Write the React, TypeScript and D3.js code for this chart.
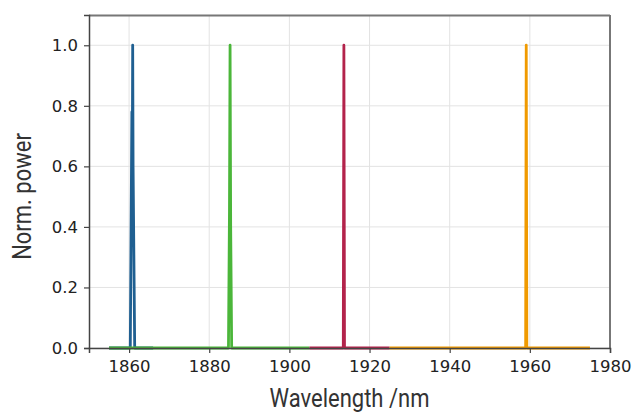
import { useEffect, useRef } from "react"
import * as d3 from "d3"

// spectra, one array pair per laser line
const blueWl = [1855, 1860.3, 1860.7, 1860.8, 1860.9, 1861.0, 1861.4, 1866]
const bluePow = [0, 0, 0.78, 0.6, 1.0, 0.6, 0, 0]
const greenWl = [1855, 1884.8, 1885.05, 1885.2, 1885.35, 1885.6, 1905]
const greenPow = [0, 0, 0.45, 1.0, 0.4, 0, 0]
const redWl = [1905, 1913.45, 1913.6, 1913.75, 1925]
const redPow = [0, 0, 1.0, 0, 0]
const orangeWl = [1925, 1958.95, 1959.1, 1959.25, 1975]
const orangePow = [0, 0, 1.0, 0, 0]

const seriesColors = ["#1f5f91", "#4bb63a", "#b3234b", "#f09a00"]

const xTicks = [1860, 1880, 1900, 1920, 1940, 1960, 1980]
const yTicks = [0.0, 0.2, 0.4, 0.6, 0.8, 1.0]

export default function App() {
    const ref = useRef<SVGSVGElement>(null)

    useEffect(() => {
        const width = 637, height = 413
        const margin = { top: 15, left: 89, right: 27, bottom: 65 }
        const w = width - margin.left - margin.right
        const h = height - margin.top - margin.bottom

        const svg = d3.select(ref.current)
        svg.selectAll("*").remove()

        const g = svg.append("g").attr("transform", `translate(${margin.left}, ${margin.top})`)

        const xScale = d3.scaleLinear().domain([1850, 1980]).range([0, w])
        const yScale = d3.scaleLinear().domain([0, 1.1]).range([h, 0])

        // grid
        g.append("g")
            .selectAll("line")
            .data(xTicks)
            .join("line")
            .attr("x1", (d) => xScale(d)).attr("x2", (d) => xScale(d))
            .attr("y1", 0).attr("y2", h)
            .attr("stroke", "#e3e3e3").attr("stroke-width", 1)
        g.append("g")
            .selectAll("line")
            .data(yTicks)
            .join("line")
            .attr("x1", 0).attr("x2", w)
            .attr("y1", (d) => yScale(d)).attr("y2", (d) => yScale(d))
            .attr("stroke", "#e3e3e3").attr("stroke-width", 1)

        const series = [
            [blueWl, bluePow],
            [greenWl, greenPow],
            [redWl, redPow],
            [orangeWl, orangePow],
        ]

        const linePath = d3.line<[number, number]>()
            .x((d) => xScale(d[0]))
            .y((d) => yScale(d[1]))

        series.forEach(([wl, p], i) => {
            const pts = wl.map((x, j) => [x, p[j]] as [number, number])
            g.append("path")
                .attr("fill", "none")
                .attr("stroke", seriesColors[i])
                .attr("stroke-width", 2.8)
                .attr("stroke-linejoin", "round")
                .attr("d", linePath(pts))
        })

        // frame
        g.append("line").attr("x1", 0).attr("x2", w).attr("y1", 0.5).attr("y2", 0.5)
            .attr("stroke", "#777").attr("stroke-width", 2)
        g.append("line").attr("x1", w).attr("x2", w).attr("y1", 0).attr("y2", h)
            .attr("stroke", "#777").attr("stroke-width", 2)

        const xAxis = d3.axisBottom(xScale).tickValues(xTicks).tickFormat(d3.format("d")).tickSize(5).tickPadding(7)
        const yAxis = d3.axisLeft(yScale).tickValues(yTicks).tickFormat(d3.format(".1f")).tickSize(5).tickPadding(6)

        const xa = g.append("g").attr("transform", `translate(0, ${h})`).call(xAxis)
        const ya = g.append("g").call(yAxis)
        for (const a of [xa, ya]) {
            a.select(".domain").attr("stroke", "#444").attr("stroke-width", 1.5)
            a.selectAll(".tick line").attr("stroke", "#444").attr("stroke-width", 1.2)
            a.selectAll("text")
                .style("font-family", "DejaVu Sans")
                .style("font-size", "16.5px")
                .attr("fill", "#222")
        }

        svg.append("text")
            .attr("transform", `translate(31, ${margin.top + h / 2 + 15}) rotate(-90) scale(0.88, 1)`)
            .attr("text-anchor", "middle")
            .style("font-family", "Roboto")
            .style("font-size", "25px")
            .attr("fill", "#333")
            .text("Norm. power")

        svg.append("text")
            .attr("transform", `translate(${margin.left + w / 2}, 407) scale(0.88, 1)`)
            .attr("text-anchor", "middle")
            .style("font-family", "Roboto")
            .style("font-size", "25px")
            .attr("fill", "#333")
            .text("Wavelength /nm")
    }, [])

    return (
        <svg ref={ref} width={637} height={413}
            style={{ position: "absolute", left: 0, top: 0, background: "white" }} />
    )
}
